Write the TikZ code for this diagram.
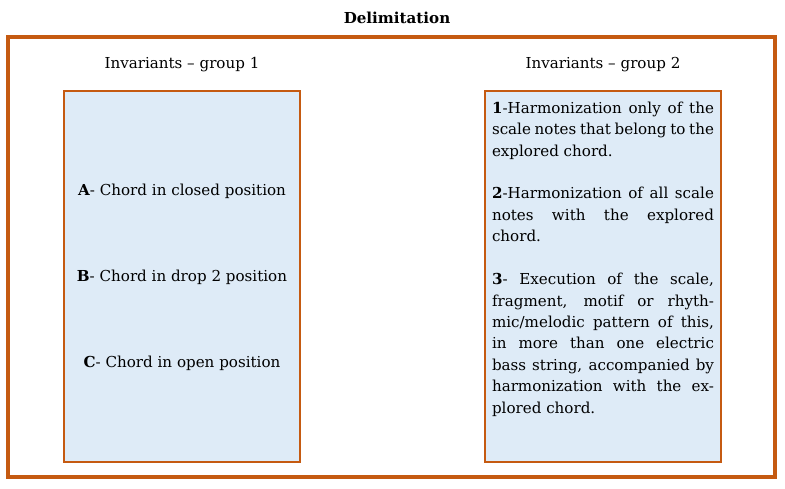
\documentclass[tikz,border=0pt]{standalone}
\usepackage{fontspec}
\setmainfont{DejaVu Serif}
\usetikzlibrary{positioning}
\definecolor{frameorange}{RGB}{197,90,17}
\definecolor{boxblue}{RGB}{222,235,247}
\tikzstyle{outer}=[draw=frameorange, line width=2.2pt]
\tikzstyle{groupbox}=[rectangle, draw=frameorange, fill=boxblue, thick, minimum width=4.72cm, minimum height=7.42cm, inner sep=0pt]
\tikzstyle{head}=[font=\fontsize{8.6}{10}\selectfont]
\tikzstyle{ltext}=[font=\fontsize{8.6}{10}\selectfont, align=center]
\tikzstyle{rtext}=[font=\fontsize{8.6}{12.2}\selectfont, text width=4.44cm, align=justify, inner sep=0pt]
\begin{document}
\begin{tikzpicture}[x=0.02cm, y=-0.02cm]
\useasboundingbox (0,0) rectangle (785,489);
\draw[outer] (8,37) rectangle (775,477);
\node (TITLE) [head] at (397,18) {\textbf{Delimitation}};
\node (H1) [head] at (182,65) {Invariants -- group 1};
\node (H2) [head] at (603,65) {Invariants -- group 2};
\node (G1) [groupbox] at (182,276.5) {};
\node (G2) [groupbox] at (603,276.5) {};
\node (A) [ltext] at (182,191) {\textbf{A}- Chord in closed position};
\node (B) [ltext] at (182,277) {\textbf{B}- Chord in drop 2 position};
\node (C) [ltext] at (182,363) {\textbf{C}- Chord in open position};
\node (LIST) [rtext, below=2.2mm of G2.north] {\hyphenpenalty=10000\exhyphenpenalty=10000
\textbf{1}-Harmonization only of the scale notes that belong to the explored chord.\par\vspace{12.2pt}
\textbf{2}-Harmonization of all scale notes with the explored chord.\par\vspace{12.2pt}
\textbf{3}- Execution of the scale, fragment, motif or rhythmic/melodic pattern of this, in more than one electric bass string, accompanied by harmonization with the explored chord.};
\end{tikzpicture}
\end{document}
